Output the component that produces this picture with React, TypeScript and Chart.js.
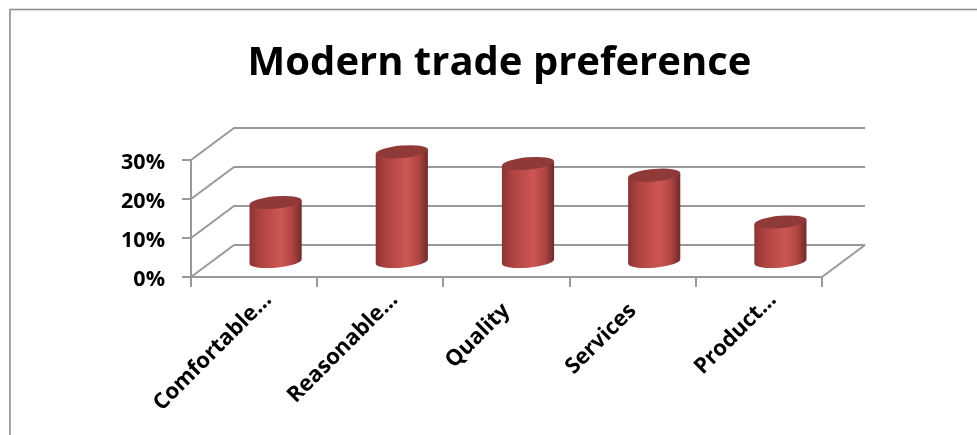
import React, { useEffect, useRef } from "react";
import { Chart, registerables } from "chart.js";

Chart.register(...registerables);

const categories = ["Comfortable…", "Reasonable…", "Quality", "Services", "Product…"];
const preference = [15, 28, 25, 22, 10];
const yMax = 30;
const yStep = 10;
const titleText = "Modern trade preference";

const GRID = "#999999";
const DX = 43;
const DY = -32;
const FONT = "'Open Sans', Lato, sans-serif";
const SHORT_LABEL_SHIFT = [0, 0, 1, 1, 0];

const frame = {
  id: "frame",
  beforeDraw(chart: any) {
    const { ctx, width, height } = chart;
    ctx.save();
    ctx.fillStyle = "#ffffff";
    ctx.fillRect(0, 0, width, height);
    ctx.strokeStyle = "#8c8c8c";
    ctx.lineWidth = 1.6;
    ctx.beginPath();
    ctx.moveTo(10, height);
    ctx.lineTo(10, 9.5);
    ctx.lineTo(width, 9.5);
    ctx.stroke();
    ctx.restore();
  },
};

const walls = {
  id: "walls",
  beforeDatasetsDraw(chart: any) {
    const { ctx, chartArea, scales } = chart;
    const { left, right, bottom } = chartArea;
    ctx.save();
    ctx.strokeStyle = GRID;
    ctx.lineWidth = 2;
    ctx.lineJoin = "round";
    for (let v = 0; v <= yMax; v += yStep) {
      const y = scales.y.getPixelForValue(v);
      ctx.beginPath();
      ctx.moveTo(left, y);
      ctx.lineTo(left + DX, y + DY);
      ctx.lineTo(right + DX, y + DY);
      ctx.stroke();
    }
    ctx.beginPath();
    ctx.moveTo(right, bottom);
    ctx.lineTo(right + DX, bottom + DY);
    ctx.stroke();
    ctx.restore();
  },
};

const cylinders = {
  id: "cylinders",
  afterDatasetsDraw(chart: any) {
    const { ctx } = chart;
    const rot = (-5 * Math.PI) / 180;
    const ry = 6.2;
    const cos = Math.cos(rot);
    const sin = Math.sin(rot);
    chart.getDatasetMeta(0).data.forEach((bar: any) => {
      const cx = bar.x + DX / 2;
      const rx = bar.width / 2;
      const baseY = bar.base + DY / 2 + 1.5;
      const topY = bar.y + DY / 2;
      const grad = ctx.createLinearGradient(cx - rx, 0, cx + rx, 0);
      grad.addColorStop(0, "#8a3432");
      grad.addColorStop(0.2, "#ae4341");
      grad.addColorStop(0.6, "#cd5653");
      grad.addColorStop(0.82, "#b04543");
      grad.addColorStop(1, "#6f2a29");
      ctx.save();
      ctx.beginPath();
      ctx.moveTo(cx - rx * cos, topY - rx * sin);
      ctx.lineTo(cx - rx * cos, baseY - rx * sin);
      ctx.ellipse(cx, baseY, rx, ry, rot, Math.PI, 0, true);
      ctx.lineTo(cx + rx * cos, topY + rx * sin);
      ctx.closePath();
      ctx.fillStyle = grad;
      ctx.fill();
      ctx.beginPath();
      ctx.ellipse(cx, topY, rx, ry, rot, 0, Math.PI * 2);
      ctx.fillStyle = "#8f3a38";
      ctx.fill();
      ctx.restore();
    });
  },
};

export default function App() {
  const ref = useRef<HTMLCanvasElement>(null);
  useEffect(() => {
    const chart = new Chart(ref.current as HTMLCanvasElement, {
      type: "bar",
      data: {
        labels: categories,
        datasets: [
          {
            data: preference,
            backgroundColor: "rgba(0,0,0,0)",
            borderWidth: 0,
            categoryPercentage: 1,
            barPercentage: 0.415,
          },
        ],
      },
      plugins: [frame, walls, cylinders],
      options: {
        responsive: false,
        animation: false,
        layout: { padding: { left: 22, right: 0, top: 0, bottom: 0 } },
        plugins: {
          legend: { display: false },
          tooltip: { enabled: false },
          title: {
            display: true,
            text: titleText,
            color: "#000000",
            font: { family: FONT, size: 40, weight: "bold", lineHeight: 1.2 },
            padding: { top: 40, bottom: 72 },
          },
        },
        scales: {
          x: {
            offset: true,
            grid: {
              offset: true,
              drawOnChartArea: false,
              color: GRID,
              lineWidth: 2,
              tickLength: 10,
            },
            border: { color: GRID, width: 2 },
            ticks: {
              color: "#000000",
              font: { family: FONT, size: 22, weight: "bold" },
              minRotation: 45,
              maxRotation: 45,
              autoSkip: false,
              labelOffset: 14,
              padding: 0,
            },
            afterFit(scale: any) {
              scale.height = 158;
            },
            afterUpdate(scale: any) {
              const compute = scale._computeLabelItems.bind(scale);
              scale._computeLabelItems = (area: any) =>
                compute(area).map((item: any, i: number) => {
                  const [x, y] = item.options.translation;
                  item.options.translation = [
                    x - 14 * SHORT_LABEL_SHIFT[i],
                    y + 11 * SHORT_LABEL_SHIFT[i],
                  ];
                  return item;
                });
            },
          },
          y: {
            min: 0,
            max: yMax,
            grid: { drawOnChartArea: false, color: GRID, lineWidth: 2, tickLength: 9 },
            border: { color: GRID, width: 2 },
            ticks: {
              stepSize: yStep,
              color: "#000000",
              font: { family: FONT, size: 21.5, weight: "bold" },
              padding: 17,
              labelOffset: 3,
              callback: (v: any) => `${v}%`,
            },
            afterFit(scale: any) {
              scale.width = 169;
            },
          },
          reserve: {
            position: "right",
            min: 0,
            max: yMax,
            grid: { display: false },
            border: { display: false },
            ticks: { display: false },
            afterFit(scale: any) {
              scale.width = 155;
            },
          },
        },
      },
    } as any);
    return () => chart.destroy();
  }, []);
  return (
    <div style={{ position: "absolute", left: 0, top: 0, width: 977, height: 435 }}>
      <canvas ref={ref} width={977} height={435} style={{ display: "block" }} />
    </div>
  );
}
